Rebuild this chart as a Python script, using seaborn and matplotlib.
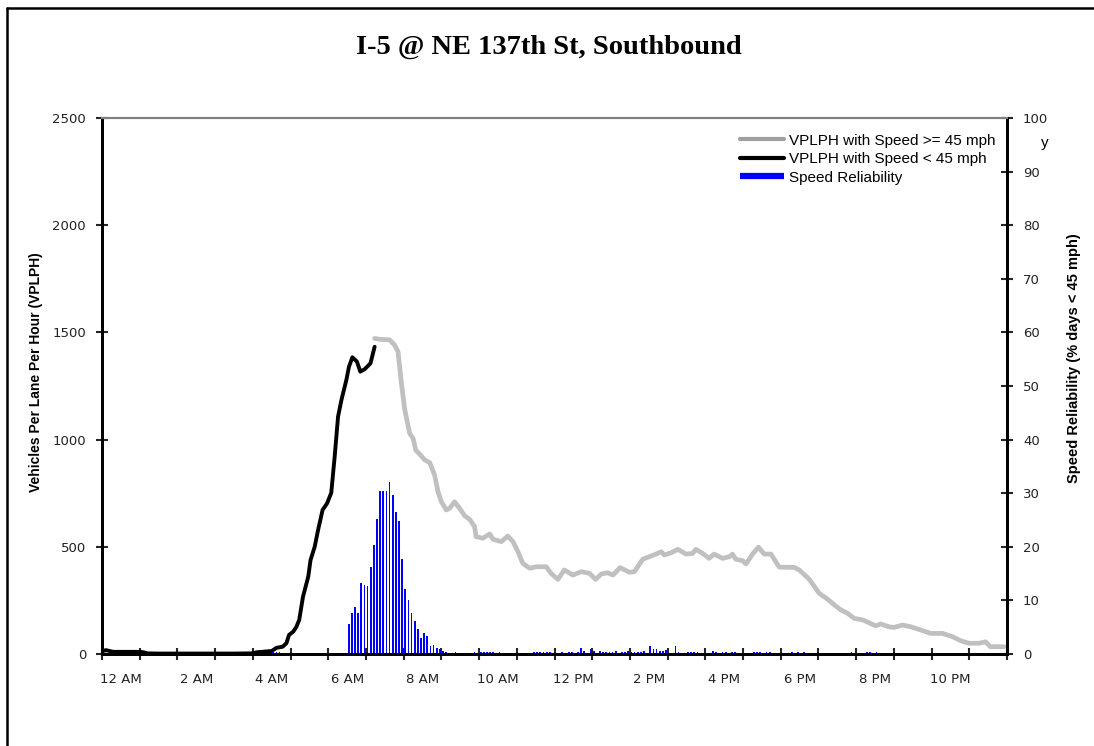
import matplotlib.pyplot as plt
import numpy as np
import pandas as pd
import seaborn as sns
from matplotlib.lines import Line2D

# VPLPH while speed < 45 mph (hours after midnight, vehicles per lane per hour)
congested_hours = [0.0, 0.1, 0.3, 0.6, 1.0, 1.1, 1.2, 1.5, 2.0, 2.5, 3.0, 3.5, 4.0, 4.1, 4.5,
                   4.63, 4.79, 4.89, 4.96, 5.07, 5.15, 5.23, 5.33, 5.47, 5.53, 5.64, 5.73, 5.85,
                   5.97, 6.08, 6.17, 6.26, 6.35, 6.48, 6.55, 6.64, 6.76, 6.85, 6.97, 7.12, 7.23]
congested_vplph = [12, 18, 10, 10, 10, 8, 3, 2, 2, 2, 2, 2, 3, 8, 14,
                   29, 34, 50, 89, 104, 125, 159, 267, 361, 438, 500, 578, 672,
                   703, 752, 920, 1107, 1185, 1278, 1340, 1384, 1364, 1317, 1329, 1356, 1433]

# VPLPH while speed >= 45 mph
free_hours = [7.23, 7.36, 7.63, 7.76, 7.85, 7.94, 8.03, 8.16, 8.25, 8.32, 8.42, 8.56, 8.69, 8.82,
              8.91, 9.0, 9.13, 9.22, 9.35, 9.48, 9.62, 9.75, 9.88, 9.92, 10.1, 10.28, 10.37,
              10.59, 10.76, 10.9, 11.03, 11.16, 11.34, 11.52, 11.78, 11.91, 12.09, 12.26, 12.49,
              12.71, 12.93, 13.09, 13.24, 13.41, 13.55, 13.74, 13.99, 14.12, 14.34, 14.52, 14.69,
              14.83, 14.91, 15.09, 15.27, 15.49, 15.66, 15.75, 15.93, 16.1, 16.23, 16.46, 16.64,
              16.72, 16.81, 16.99, 17.08, 17.25, 17.41, 17.56, 17.74, 17.96, 18.36, 18.49, 18.75,
              19.02, 19.24, 19.42, 19.6, 19.77, 19.95, 20.17, 20.34, 20.52, 20.65, 20.87, 21.0,
              21.23, 21.45, 21.71, 21.98, 22.29, 22.55, 22.77, 22.99, 23.26, 23.43, 23.56, 23.92]
free_vplph = [1472, 1468, 1465, 1441, 1410, 1263, 1138, 1029, 1006, 951, 933, 905, 893, 835,
              757, 710, 672, 680, 710, 680, 644, 628, 594, 547, 540, 560, 535,
              524, 550, 524, 477, 423, 400, 407, 407, 376, 348, 392, 368,
              384, 376, 348, 373, 379, 368, 403, 381, 384, 442, 454, 466,
              477, 462, 472, 488, 466, 469, 488, 469, 446, 466, 446, 454,
              466, 442, 435, 420, 466, 498, 466, 466, 405, 404, 392, 350,
              283, 256, 229, 205, 190, 166, 159, 146, 131, 140, 127, 124,
              135, 127, 112, 96, 96, 81, 62, 50, 50, 57, 34, 34]

# speed reliability, % of days below 45 mph, by 5-minute interval start
reliability_times = ["04:30", "04:35", "04:40",
                     "06:30", "06:35", "06:40", "06:45", "06:50", "06:55", "07:00", "07:05",
                     "07:10", "07:15", "07:20", "07:25", "07:30", "07:35", "07:40", "07:45",
                     "07:50", "07:55", "08:00", "08:05", "08:10", "08:15", "08:20", "08:25",
                     "08:30", "08:35", "08:40", "08:45", "08:50", "08:55", "09:00", "09:05",
                     "09:20", "09:50", "10:00", "10:05", "10:10", "10:15", "10:20", "10:30",
                     "11:25", "11:30", "11:35", "11:40", "11:45", "11:50",
                     "12:10", "12:20", "12:25", "12:35", "12:40", "12:45", "12:55", "13:00",
                     "13:10", "13:15", "13:20", "13:25", "13:30", "13:35", "13:45", "13:50",
                     "13:55", "14:00", "14:05", "14:10", "14:15", "14:20", "14:30", "14:35",
                     "14:40", "14:45", "14:50", "14:55", "15:10", "15:15", "15:30", "15:35",
                     "15:40", "15:45", "16:10", "16:15", "16:25", "16:30", "16:40", "16:45",
                     "17:15", "17:20", "17:25", "17:35", "17:40", "18:15", "18:25", "18:35",
                     "19:50", "20:15", "20:20", "20:30"]
reliability_pct = [0.3, 0.3, 0.3,
                   5.6, 7.7, 8.8, 7.7, 13.3, 12.9, 12.6, 16.3,
                   20.4, 25.2, 30.5, 30.5, 30.5, 32.0, 29.7, 26.4,
                   24.9, 17.8, 12.2, 10.0, 7.7, 6.2, 4.7, 2.9,
                   4.0, 3.3, 1.4, 1.7, 1.2, 1.0, 0.5, 0.4,
                   0.4, 0.3, 0.3, 0.3, 0.3, 0.3, 0.3, 0.3,
                   0.3, 0.3, 0.3, 0.3, 0.3, 0.3,
                   0.3, 0.3, 0.3, 0.3, 1.1, 0.6, 0.9, 0.6,
                   0.6, 0.3, 0.3, 0.3, 0.3, 0.6, 0.3, 0.3,
                   0.6, 0.3, 0.3, 0.3, 0.3, 0.6, 1.4, 0.9,
                   0.9, 0.6, 0.6, 0.7, 1.4, 0.3, 0.3, 0.3,
                   0.3, 0.3, 0.6, 0.3, 0.3, 0.3, 0.3, 0.3,
                   0.3, 0.3, 0.3, 0.3, 0.3, 0.3, 0.3, 0.3,
                   0.3, 0.3, 0.3, 0.3]

x_labels = ["12 AM", "2 AM", "4 AM", "6 AM", "8 AM", "10 AM",
            "12 PM", "2 PM", "4 PM", "6 PM", "8 PM", "10 PM"]

GRAY = "#c0c0c0"
SANS = ["Liberation Sans", "DejaVu Sans"]

sns.set_theme(style="white")
plt.rcParams["font.family"] = ["DejaVu Sans"]
plt.rcParams["text.color"] = "black"

congested = pd.DataFrame({"hour": congested_hours, "vplph": congested_vplph})
free = pd.DataFrame({"hour": free_hours, "vplph": free_vplph})
rel = pd.DataFrame({"start": reliability_times, "pct": reliability_pct})
rel["hour"] = pd.to_timedelta(rel["start"] + ":00").dt.total_seconds() / 3600 + 2.5 / 60

fig = plt.figure(figsize=(10.94, 7.46), dpi=100)
ax = fig.add_axes([102 / 1094, 92 / 746, 905 / 1094, 536 / 746])
ax2 = ax.twinx()

sns.lineplot(data=free, x="hour", y="vplph", color=GRAY, lw=3.4, ax=ax, zorder=3)
sns.lineplot(data=congested, x="hour", y="vplph", color="black", lw=2.8, ax=ax, zorder=4)
sns.histplot(data=rel, x="hour", weights="pct", binwidth=1 / 12, binrange=(0, 24), shrink=0.55,
             color="#0000ff", alpha=1, linewidth=0, ax=ax2)

ax.set_xlim(0, 24)
ax.set_ylim(0, 2500)
ax2.set_ylim(0, 100)
ax.set_xlabel("")
ax.set_ylabel("")
ax2.set_ylabel("")

ax.set_yticks(np.arange(0, 2501, 500))
ax2.set_yticks(np.arange(0, 101, 10))
ax.set_xticks(np.arange(0, 25, 1))
ax.set_xticklabels([])
ax.set_xticks(np.arange(0, 24, 2) + 0.5, minor=True)
ax.set_xticklabels(x_labels, minor=True)

tick_font = dict(labelsize=9.5, labelcolor="#222222")
ax.tick_params(axis="y", which="major", direction="inout", length=9, width=1.5, left=True,
               pad=7, **tick_font)
ax.tick_params(axis="x", which="major", direction="inout", length=9, width=1.5, bottom=True)
ax.tick_params(axis="x", which="minor", length=0, pad=14, **tick_font)
ax2.tick_params(axis="y", direction="inout", length=9, width=1.5, right=True, pad=7, **tick_font)

for a in (ax, ax2):
    for side in ("left", "right", "bottom"):
        a.spines[side].set_color("black")
        a.spines[side].set_linewidth(2)
    a.spines["top"].set_color("#808080")
    a.spines["top"].set_linewidth(1.5)

handles = [Line2D([], [], color="#a0a0a0", lw=3),
           Line2D([], [], color="black", lw=3),
           Line2D([], [], color="#0000ff", lw=4.5, solid_capstyle="butt")]
labels = ["VPLPH with Speed >= 45 mph", "VPLPH with Speed < 45 mph", "Speed Reliability"]
ax2.legend(handles, labels, loc="upper right", bbox_to_anchor=(0.997, 0.988), frameon=False,
           handlelength=2.9, handletextpad=0.3, labelspacing=0.3, borderaxespad=0.2,
           prop={"family": SANS, "size": 11}, labelcolor="black")

fig.text(0.5014, 1 - 47 / 746, "I-5 @ NE 137th St, Southbound", ha="center", va="center",
         family=["Liberation Serif", "DejaVu Serif"], weight="bold", size=20.5, color="black")
fig.text(36 / 1094, 1 - 372 / 746, "Vehicles Per Lane Per Hour (VPLPH)", rotation=90,
         ha="center", va="center", family=SANS, weight="bold", size=10, color="black")
fig.text(1074 / 1094, 1 - 358 / 746, "Speed Reliability (% days < 45 mph)", rotation=90,
         ha="center", va="center", family=SANS, weight="bold", size=10.5, color="black")
fig.text(1045 / 1094, 1 - 143 / 746, "y", ha="center", va="center", family=SANS, size=11,
         color="black")

# chart border (only top and left edges are inside the frame)
fig.add_artist(Line2D([7 / 1094, 7 / 1094], [0, 1 - 8 / 746], color="black", lw=1.8,
                      transform=fig.transFigure))
fig.add_artist(Line2D([7 / 1094, 1], [1 - 8 / 746, 1 - 8 / 746], color="black", lw=1.8,
                      transform=fig.transFigure))

fig.savefig("out.png", dpi=100, facecolor="white")
